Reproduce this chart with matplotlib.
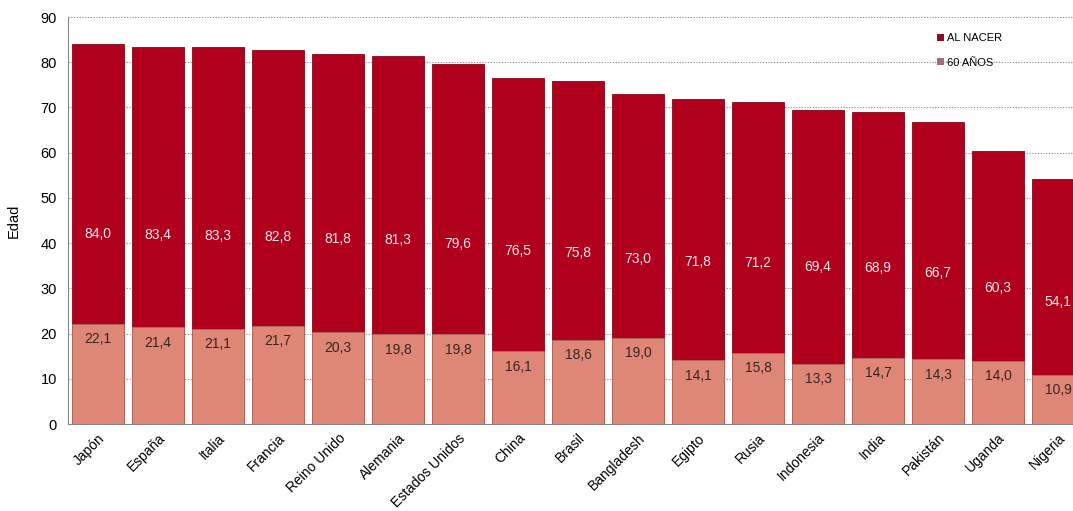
import matplotlib
matplotlib.use("Agg")
import matplotlib.pyplot as plt
from matplotlib.patches import Patch

plt.rcParams['font.family'] = ['Liberation Sans', 'DejaVu Sans']

paises = ["Japón", "España", "Italia", "Francia", "Reino Unido", "Alemania",
          "Estados Unidos", "China", "Brasil", "Bangladesh", "Egipto", "Rusia",
          "Indonesia", "India", "Pakistán", "Uganda", "Nigeria"]
al_nacer = [84.0, 83.4, 83.3, 82.8, 81.8, 81.3, 79.6, 76.5, 75.8, 73.0,
            71.8, 71.2, 69.4, 68.9, 66.7, 60.3, 54.1]
a_60 = [22.1, 21.4, 21.1, 21.7, 20.3, 19.8, 19.8, 16.1, 18.6, 19.0,
        14.1, 15.8, 13.3, 14.7, 14.3, 14.0, 10.9]

def fmt(v):
    return f"{v:.1f}".replace(".", ",")

fig = plt.figure(figsize=(10.73, 5.11), dpi=100)
ax = fig.add_axes([68/1073, 1 - 424/511, 1 - 68/1073, (424 - 17)/511])

x = list(range(len(paises)))
w = 0.87
red = "#B0001E"
salmon = "#DE8777"
ax.bar(x, al_nacer, width=w, color=red, edgecolor="#80081a", linewidth=0.6, zorder=2)
ax.bar(x, a_60, width=w, color=salmon, edgecolor="#b06a5a", linewidth=0.6, zorder=3)

for xi, v, s in zip(x, al_nacer, a_60):
    ax.text(xi, v / 2, fmt(v), ha="center", va="center", color="#f6e8e8",
            fontsize=10, zorder=4)
    ax.text(xi, s - 3.4, fmt(s), ha="center", va="center", color="#3a2420",
            fontsize=10, zorder=4)

ax.set_ylim(0, 90)
ax.set_xlim(-0.5, 16.25)
ax.set_yticks(range(0, 91, 10))
ax.yaxis.grid(True, linestyle=(0, (1, 1.5)), color="#888888", linewidth=0.8, zorder=0)
ax.set_axisbelow(True)
ax.set_xticks(x)
ax.set_xticklabels(paises, rotation=45, ha="right", rotation_mode="anchor", fontsize=10)
ax.tick_params(axis="x", length=0, pad=5)
ax.tick_params(axis="y", length=0, labelsize=10.5, pad=8)
for side in ["top", "right"]:
    ax.spines[side].set_visible(False)
for side in ["left", "bottom"]:
    ax.spines[side].set_color("#888888")
    ax.spines[side].set_linewidth(0.8)
ax.set_ylabel("Edad", fontsize=10.5, labelpad=14)

handles = [Patch(facecolor="#8B0A2A", label="AL NACER"),
           Patch(facecolor="#9A7080", label="60 AÑOS")]
leg = ax.legend(handles=handles, loc="upper left", bbox_to_anchor=(0.855, 0.985),
                frameon=False, fontsize=8, handlelength=0.6, handleheight=0.6,
                handletextpad=0.3, labelspacing=1.3)

fig.savefig("out.png", dpi=100)
